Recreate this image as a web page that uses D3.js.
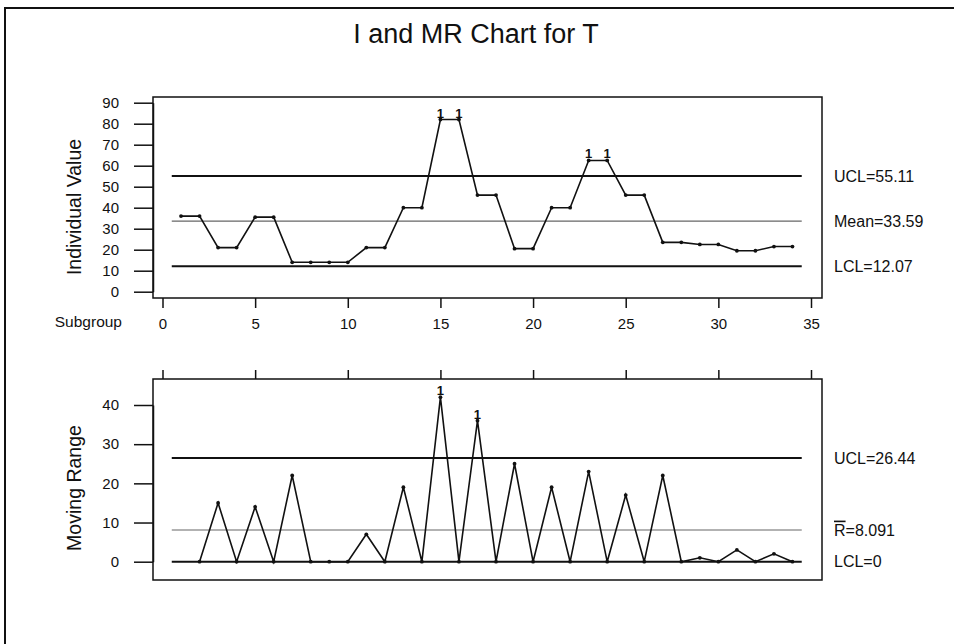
<!DOCTYPE html>
<html lang="en">
<head>
<meta charset="utf-8">
<title>I and MR Chart for T</title>
<script src="https://d3js.org/d3.v7.min.js"></script>
<style>
  body { margin: 0; background: #fff; }
  svg text { font-family: "Liberation Sans", Arial, sans-serif; fill: #111; }
  .axis path, .axis line { stroke: #111; stroke-width: 1.5; }
  .axis text { font-size: 15px; }
</style>
</head>
<body>
<div id="chart"></div>
<script>
"use strict"
// subgroup numbers 1..34
var subgroups = [1,2,3,4,5,6,7,8,9,10,11,12,13,14,15,16,17,18,19,20,21,22,23,24,25,26,27,28,29,30,31,32,33,34];
// individual values
var individual = [36,36,21,21,35.5,35.5,14,14,14,14,21,21,40,40,82,82,46,46,20.5,20.5,40,40,62.5,62.5,46,46,23.5,23.5,22.5,22.5,19.5,19.5,21.5,21.5];
// moving ranges (subgroup 2..34)
var mrSubgroups = subgroups.slice(1);
var movingRange = [0,15,0,14,0,22,0,0,0,7,0,19,0,42,0,36,0,25,0,19,0,23,0,17,0,22,0,1,0,3,0,2,0];
// control limits
var iLimits = {ucl: 55.11, mean: 33.59, lcl: 12.07};
var mrLimits = {ucl: 26.44, rbar: 8.091, lcl: 0};
// out-of-control points flagged with test 1
var iFlagged = [15,16,23,24];
var mrFlagged = [15,17];
var xTicks = [0,5,10,15,20,25,30,35];
var iTicks = [0,10,20,30,40,50,60,70,80,90];
var mrTicks = [0,10,20,30,40];

var W = 954, H = 644;
var svg = d3.select('#chart').append('svg').attr('width', W).attr('height', H);

// outer frame (runs off the right and bottom edges)
svg.append('rect').attr('x', 5).attr('y', 8).attr('width', 1000).attr('height', 700)
  .attr('fill', 'none').attr('stroke', '#111').attr('stroke-width', 2);

svg.append('text').attr('x', 476).attr('y', 43).attr('text-anchor', 'middle')
  .style('font-size', '27px').text('I and MR Chart for T');

var x = d3.scaleLinear().domain([0, 35]).range([162.5, 811]);
var boxL = 153, boxR = 822;

function panel(cfg) {
  var y = cfg.y;
  var g = svg.append('g');
  g.append('rect').attr('x', boxL).attr('y', cfg.top).attr('width', boxR - boxL).attr('height', cfg.bottom - cfg.top)
    .attr('fill', 'none').attr('stroke', '#111').attr('stroke-width', 1.5);

  g.append('g').attr('class', 'axis').attr('transform', 'translate(' + boxL + ',0)')
    .call(d3.axisLeft(y).tickValues(cfg.ticks).tickSize(19).tickPadding(15).tickSizeOuter(0));

  var xa = g.append('g').attr('class', 'axis');
  if (cfg.xLabels) {
    xa.attr('transform', 'translate(0,' + cfg.bottom + ')')
      .call(d3.axisBottom(x).tickValues(xTicks).tickSize(10).tickPadding(10).tickSizeOuter(0));
  } else {
    xa.attr('transform', 'translate(0,' + cfg.top + ')')
      .call(d3.axisTop(x).tickValues(xTicks).tickSize(9).tickFormat('').tickSizeOuter(0));
  }
  xa.select('.domain').remove();

  // control lines
  cfg.lines.forEach(function (l) {
    g.append('line').attr('x1', x(0.5)).attr('x2', x(34.5)).attr('y1', y(l.v)).attr('y2', y(l.v))
      .attr('stroke', l.center ? '#666' : '#111').attr('stroke-width', l.center ? 1.2 : 2);
    var t = g.append('text').attr('x', 834).attr('y', y(l.v)).attr('dy', '0.35em').style('font-size', '16px');
    if (l.rbar) {
      t.append('tspan').style('text-decoration', 'overline').text('R');
      t.append('tspan').text(l.label);
    } else {
      t.text(l.label);
    }
  });

  var pts = cfg.xs.map(function (s, i) { return [s, cfg.vals[i]]; });
  g.append('path').datum(pts)
    .attr('d', d3.line().x(function (d) { return x(d[0]); }).y(function (d) { return y(d[1]); }))
    .attr('fill', 'none').attr('stroke', '#111').attr('stroke-width', 1.6);
  g.selectAll('circle.pt').data(pts).enter().append('circle').attr('class', 'pt')
    .attr('cx', function (d) { return x(d[0]); }).attr('cy', function (d) { return y(d[1]); })
    .attr('r', 1.9).attr('fill', '#111');

  g.selectAll('text.flag').data(pts.filter(function (d) { return cfg.flags.indexOf(d[0]) >= 0; }))
    .enter().append('text').attr('class', 'flag')
    .attr('x', function (d) { return x(d[0]); }).attr('y', function (d) { return y(d[1]) - 2; })
    .attr('text-anchor', 'middle').style('font-size', '13px').style('font-weight', 'bold').text('1');

  svg.append('text').attr('transform', 'translate(81,' + cfg.labelY + ') rotate(-90)')
    .attr('text-anchor', 'middle').style('font-size', '19.5px').text(cfg.label);
}

panel({
  top: 97, bottom: 298,
  y: d3.scaleLinear().domain([0, 90]).range([291.7, 102.7]),
  ticks: iTicks, xLabels: true,
  xs: subgroups, vals: individual, flags: iFlagged,
  lines: [
    {v: iLimits.ucl, label: 'UCL=55.11'},
    {v: iLimits.mean, label: 'Mean=33.59', center: true},
    {v: iLimits.lcl, label: 'LCL=12.07'}
  ],
  label: 'Individual Value', labelY: 207
});

panel({
  top: 379, bottom: 580,
  y: d3.scaleLinear().domain([0, 40]).range([561.7, 405]),
  ticks: mrTicks, xLabels: false,
  xs: mrSubgroups, vals: movingRange, flags: mrFlagged,
  lines: [
    {v: mrLimits.ucl, label: 'UCL=26.44'},
    {v: mrLimits.rbar, label: '=8.091', center: true, rbar: true},
    {v: mrLimits.lcl, label: 'LCL=0'}
  ],
  label: 'Moving Range', labelY: 488
});

svg.append('text').attr('x', 122).attr('y', 322).attr('dy', '0.35em').attr('text-anchor', 'end')
  .style('font-size', '15.5px').text('Subgroup');
</script>
</body>
</html>
